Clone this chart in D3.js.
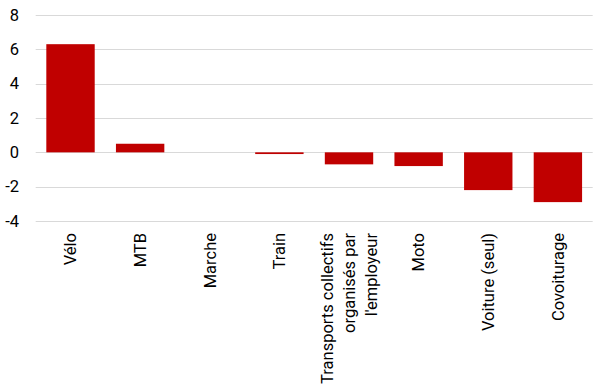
<!DOCTYPE html>
<html>
<head>
<meta charset="utf-8">
<script src="https://cdn.jsdelivr.net/npm/d3@7"></script>
<style>
  html, body { margin: 0; padding: 0; background: #fff; }
  svg { display: block; }
  text { font-family: Roboto, "Liberation Sans", Arial, sans-serif; fill: #000; }
</style>
</head>
<body>
<svg id="chart" width="602" height="391"></svg>
<script>
const categories = ["Vélo", "MTB", "Marche", "Train", "Transports collectifs\norganisés par\nl'employeur", "Moto", "Voiture (seul)", "Covoiturage"];
const values = [6.3, 0.5, 0, -0.1, -0.7, -0.8, -2.2, -2.9];
const yTicks = [-4, -2, 0, 2, 4, 6, 8];

const svg = d3.select("#chart");
const plotLeft = 35.7, plotRight = 592.7, plotTop = 15, plotBottom = 221;

const x = d3.scaleBand().domain(categories).range([plotLeft, plotRight])
  .paddingInner(0.305).paddingOuter(0.1525);
const y = d3.scaleLinear().domain([-4, 8]).range([plotBottom, plotTop]);

// gridlines
svg.append("g").selectAll("line").data(yTicks).join("line")
  .attr("x1", plotLeft).attr("x2", plotRight)
  .attr("y1", d => Math.round(y(d)) + 0.5).attr("y2", d => Math.round(y(d)) + 0.5)
  .attr("stroke", "#d9d9d9").attr("stroke-width", 1);

// y axis labels
const yAxis = d3.axisLeft(y).tickValues(yTicks).tickSize(0).tickPadding(0)
  .tickFormat(d => d < 0 ? "-" + Math.abs(d) : String(d));
const ga = svg.append("g").attr("transform", "translate(19,0)").call(yAxis);
ga.select(".domain").remove();
ga.selectAll("text").attr("font-size", 16.5).attr("font-family", "Roboto, 'Liberation Sans', Arial, sans-serif").attr("fill", "#000");

// bars
svg.append("g").selectAll("rect").data(values).join("rect")
  .attr("x", (d, i) => x(categories[i]))
  .attr("width", x.bandwidth())
  .attr("y", d => y(Math.max(0, d)))
  .attr("height", d => Math.abs(y(d) - y(0)))
  .attr("fill", "#c00000");

// x labels
const lineH = 22;
const lab = svg.append("g");
categories.forEach((c, i) => {
  const lines = c.split("\n");
  const cx = x(c) + x.bandwidth() / 2;
  const t = lab.append("text")
    .attr("transform", `translate(${cx},233) rotate(-90)`)
    .attr("text-anchor", "end")
    .attr("font-size", 16.5);
  const n = lines.length;
  lines.forEach((l, j) => {
    t.append("tspan")
      .attr("x", 0)
      .attr("y", (j - (n - 1) / 2) * lineH)
      .attr("dy", "0.35em")
      .text(l);
  });
});
</script>
</body>
</html>
